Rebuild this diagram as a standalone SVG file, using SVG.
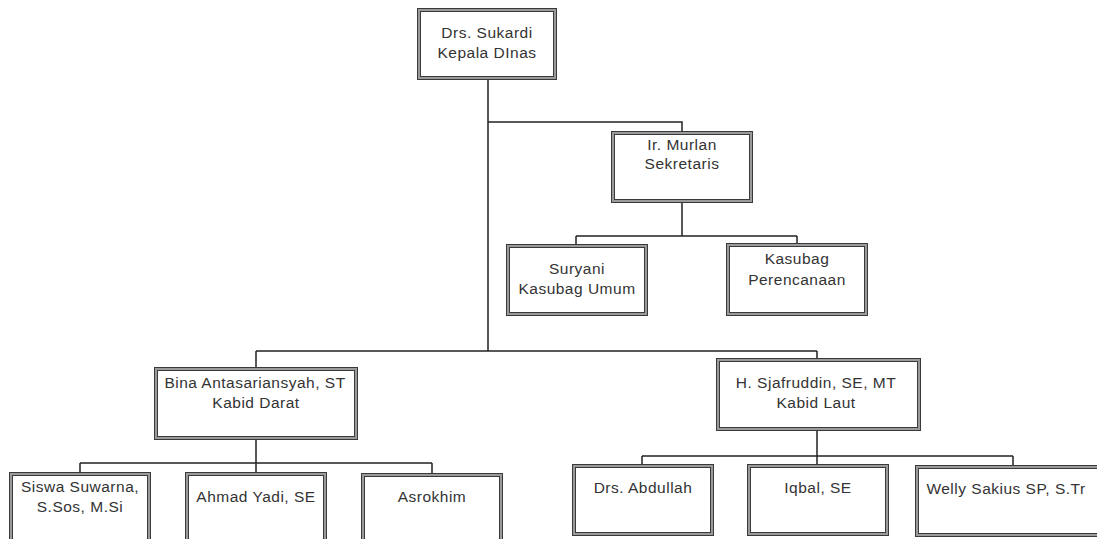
<svg xmlns="http://www.w3.org/2000/svg" width="1097" height="539" viewBox="0 0 1097 539">
<style>
.o{fill:#9a9a9a;stroke:#3a3a3a;stroke-width:1}
.i{fill:#fff;stroke:#3a3a3a;stroke-width:1}
.t{font-family:"Liberation Sans",Arial,sans-serif;font-size:15.5px;letter-spacing:0.5px;fill:#333;text-anchor:middle}
.c{fill:none;stroke:#222;stroke-width:1.5}
</style>
<rect width="1097" height="539" fill="#fff"/>
<g id="connectors">
<path class="c" d="M488 79V351M488 122H682V131M682 202V236M576 236H797M576 236V244M797 236V243M256 351H817M256 351V367M817 351V358M256 439V463M80 463H432M80 463V472M256 463V472M432 463V473M817 430V464M642 456H1013M642 456V464M1013 456V465"/>
</g>
<g id="kepala"><rect class="o" x="417.5" y="8.5" width="139" height="71"/><rect class="i" x="420.5" y="11.5" width="133" height="65"/><text class="t" x="487" y="38">Drs. Sukardi</text><text class="t" x="487" y="58">Kepala DInas</text></g>
<g id="sekretaris"><rect class="o" x="611.5" y="131.5" width="141" height="71"/><rect class="i" x="614.5" y="134.5" width="135" height="65"/><text class="t" x="682" y="150">Ir. Murlan</text><text class="t" x="682" y="169">Sekretaris</text></g>
<g id="umum"><rect class="o" x="506.5" y="244.5" width="141" height="71"/><rect class="i" x="509.5" y="247.5" width="135" height="65"/><text class="t" x="577" y="274">Suryani</text><text class="t" x="577" y="294">Kasubag Umum</text></g>
<g id="perencanaan"><rect class="o" x="726.5" y="243.5" width="141" height="72"/><rect class="i" x="729.5" y="246.5" width="135" height="66"/><text class="t" x="797" y="264">Kasubag</text><text class="t" x="797" y="285">Perencanaan</text></g>
<g id="darat"><rect class="o" x="154.5" y="367.5" width="203" height="72"/><rect class="i" x="157.5" y="370.5" width="197" height="66"/><text class="t" x="255" y="388">Bina Antasariansyah, ST</text><text class="t" x="256" y="408">Kabid Darat</text></g>
<g id="laut"><rect class="o" x="716.5" y="358.5" width="204" height="72"/><rect class="i" x="719.5" y="361.5" width="198" height="66"/><text class="t" x="816" y="388">H. Sjafruddin, SE, MT</text><text class="t" x="816" y="408">Kabid Laut</text></g>
<g id="siswa"><rect class="o" x="9.5" y="472.5" width="141" height="72"/><rect class="i" x="12.5" y="475.5" width="135" height="66"/><text class="t" x="80" y="492">Siswa Suwarna,</text><text class="t" x="80" y="512">S.Sos, M.Si</text></g>
<g id="ahmad"><rect class="o" x="185.5" y="472.5" width="141" height="72"/><rect class="i" x="188.5" y="475.5" width="135" height="66"/><text class="t" x="256" y="502">Ahmad Yadi, SE</text></g>
<g id="asrokhim"><rect class="o" x="361.5" y="473.5" width="141" height="72"/><rect class="i" x="364.5" y="476.5" width="135" height="66"/><text class="t" x="432" y="502">Asrokhim</text></g>
<g id="abdullah"><rect class="o" x="572.5" y="464.5" width="141" height="71"/><rect class="i" x="575.5" y="467.5" width="135" height="65"/><text class="t" x="643" y="493">Drs. Abdullah</text></g>
<g id="iqbal"><rect class="o" x="747.5" y="464.5" width="141" height="71"/><rect class="i" x="750.5" y="467.5" width="135" height="65"/><text class="t" x="818" y="493">Iqbal, SE</text></g>
<g id="welly"><rect class="o" x="915.5" y="465.5" width="200" height="71"/><rect class="i" x="918.5" y="468.5" width="194" height="65"/><text class="t" x="1006" y="494">Welly Sakius SP, S.Tr</text></g>
</svg>
